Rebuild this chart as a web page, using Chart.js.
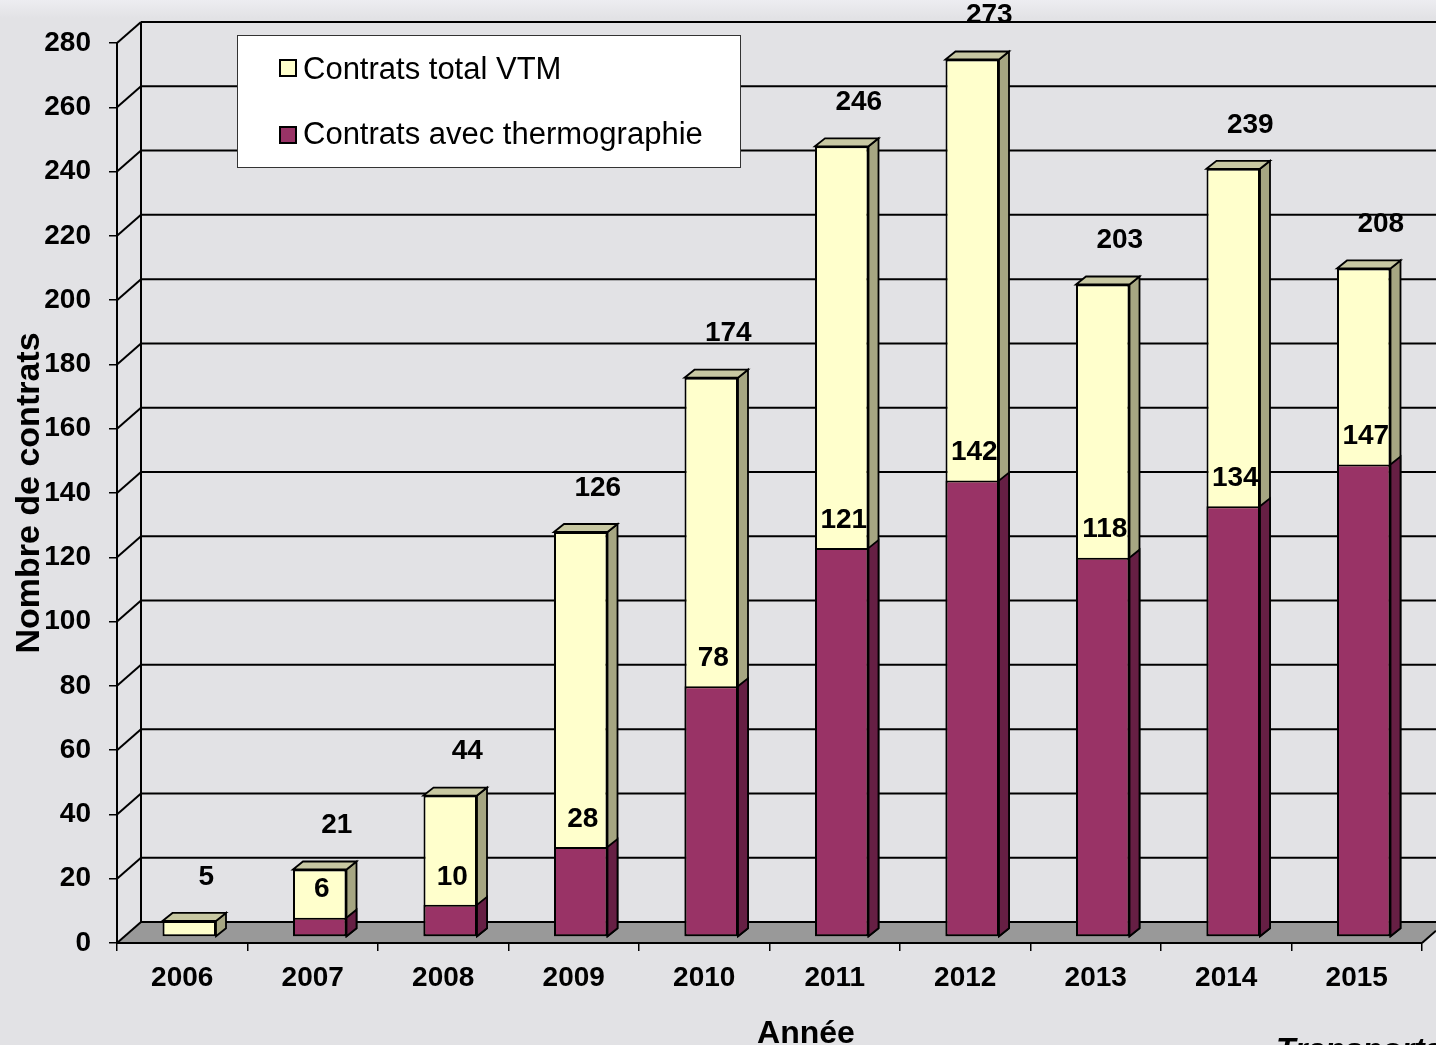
<!DOCTYPE html>
<html>
<head>
<meta charset="utf-8">
<script src="https://cdn.jsdelivr.net/npm/chart.js@4.4.1/dist/chart.umd.min.js"></script>
<style>
html, body { margin: 0; padding: 0; }
body { background: linear-gradient(#ededf1 0px, #e2e2e5 18px); width: 1436px; height: 1045px; overflow: hidden; }
#wrap { position: relative; width: 1436px; height: 1045px; }
</style>
</head>
<body>
<div id="wrap"><canvas id="myChart"></canvas></div>
<script>
const years = ['2006', '2007', '2008', '2009', '2010', '2011', '2012', '2013', '2014', '2015'];
const totalVTM = [5, 21, 44, 126, 174, 246, 273, 203, 239, 208];
const thermo = [0, 6, 10, 28, 78, 121, 142, 118, 134, 147];
const seriesNames = ['Contrats total VTM', 'Contrats avec thermographie'];
const yMax = 280;
const yStep = 20;
const xTitle = 'Année';
const yTitle = 'Nombre de contrats';
const footText = 'Transports';

const FONT = "'Liberation Sans', Arial, sans-serif";
Chart.defaults.font.family = FONT;

// fake 3d offsets (pixels)
const BAR_DX = 7, BAR_DY = -6;       // bar front plane vs front axis
const DEPTH_DX = 10, DEPTH_DY = -8;  // depth of a bar
const WALL_DX = 24, WALL_DY = -21;   // back wall vs front axis

const colors = {
    total: '#FFFFCC', totalSide: '#A6A682', totalTop: '#C8C8A2',
    thermo: '#993366', thermoSide: '#661F44'
};

function poly(ctx, pts, fill) {
    ctx.beginPath();
    ctx.moveTo(pts[0][0], pts[0][1]);
    for (let i = 1; i < pts.length; i++) ctx.lineTo(pts[i][0], pts[i][1]);
    ctx.closePath();
    if (fill) { ctx.fillStyle = fill; ctx.fill(); }
    ctx.strokeStyle = '#000';
    ctx.lineWidth = 1.8;
    ctx.stroke();
}

function line(ctx, x1, y1, x2, y2) {
    ctx.beginPath();
    ctx.moveTo(x1, y1);
    ctx.lineTo(x2, y2);
    ctx.stroke();
}

const box3d = {
    id: 'box3d',
    beforeDatasetsDraw(chart) {
        const ctx = chart.ctx;
        const { left, right } = chart.chartArea;
        const ys = chart.scales.y;
        const W = chart.width;
        const y0 = ys.getPixelForValue(0);
        const yTop = ys.getPixelForValue(yMax);
        const rightY = y0 + WALL_DY * (W - right) / WALL_DX;

        ctx.save();
        // floor
        ctx.beginPath();
        ctx.moveTo(left, y0);
        ctx.lineTo(left + WALL_DX, y0 + WALL_DY);
        ctx.lineTo(W, y0 + WALL_DY);
        ctx.lineTo(W, rightY);
        ctx.lineTo(right, y0);
        ctx.closePath();
        ctx.fillStyle = '#999999';
        ctx.fill();

        ctx.strokeStyle = '#000';
        ctx.lineWidth = 2;
        ys.ticks.forEach(t => {
            const py = ys.getPixelForValue(t.value);
            line(ctx, left + WALL_DX, py + WALL_DY, W, py + WALL_DY);
            line(ctx, left, py, left + WALL_DX, py + WALL_DY);
        });
        line(ctx, left + WALL_DX, yTop + WALL_DY, left + WALL_DX, y0 + WALL_DY);
        line(ctx, left, y0, right, y0);
        line(ctx, right, y0, W, rightY);

        // side and top faces of the bars
        const m0 = chart.getDatasetMeta(0), m1 = chart.getDatasetMeta(1);
        m0.data.forEach((bar, i) => {
            const p = bar.getProps(['x', 'y', 'base', 'width'], true);
            const l = p.x - p.width / 2 + BAR_DX, r = p.x + p.width / 2 + BAR_DX;
            const t = p.y + BAR_DY, b = p.base + BAR_DY;
            poly(ctx, [[r, b], [r + DEPTH_DX, b + DEPTH_DY], [r + DEPTH_DX, t + DEPTH_DY], [r, t]], colors.totalSide);
            poly(ctx, [[l, t], [l + DEPTH_DX, t + DEPTH_DY], [r + DEPTH_DX, t + DEPTH_DY], [r, t]], colors.totalTop);
            if (thermo[i] > 0) {
                const q = m1.data[i].getProps(['y'], true);
                const t2 = q.y + BAR_DY;
                poly(ctx, [[r, b], [r + DEPTH_DX, b + DEPTH_DY], [r + DEPTH_DX, t2 + DEPTH_DY], [r, t2]], colors.thermoSide);
            }
        });
        ctx.restore();

        ctx.save();
        ctx.translate(BAR_DX, BAR_DY);
    },
    afterDatasetsDraw(chart) {
        const ctx = chart.ctx;
        ctx.restore();

        ctx.save();
        ctx.fillStyle = '#000';
        ctx.font = 'bold 28px ' + FONT;
        ctx.textAlign = 'center';
        ctx.textBaseline = 'middle';
        chart.getDatasetMeta(0).data.forEach((bar, i) => {
            ctx.fillText(String(totalVTM[i]), bar.x + 24, bar.y - 50);
        });
        chart.getDatasetMeta(1).data.forEach((bar, i) => {
            if (thermo[i] > 0) ctx.fillText(String(thermo[i]), bar.x + 9, bar.y - 34);
        });
        ctx.restore();
    },
    afterDraw(chart) {
        const ctx = chart.ctx;
        ctx.save();
        // legend
        ctx.fillStyle = '#fff';
        ctx.fillRect(237, 35, 503, 132);
        ctx.strokeStyle = '#333';
        ctx.lineWidth = 1;
        ctx.strokeRect(237.5, 35.5, 503, 132);
        const sw = [colors.total, colors.thermo];
        ctx.font = '31px ' + FONT;
        ctx.textBaseline = 'alphabetic';
        ctx.textAlign = 'left';
        seriesNames.forEach((name, i) => {
            const yy = 60 + i * 67;
            ctx.fillStyle = sw[i];
            ctx.fillRect(280, yy, 16, 16);
            ctx.strokeStyle = '#000';
            ctx.lineWidth = 2;
            ctx.strokeRect(280, yy, 16, 16);
            ctx.fillStyle = '#000';
            ctx.fillText(name, 303, 79 + i * 65);
        });

        // x title
        ctx.font = 'bold 32px ' + FONT;
        ctx.textAlign = 'center';
        ctx.textBaseline = 'alphabetic';
        ctx.fillText(xTitle, 806, 1043);

        // cut-off footer text
        ctx.font = 'italic bold 32px ' + FONT;
        ctx.textAlign = 'left';
        ctx.fillText(footText, 1276, 1060);
        ctx.restore();
    }
};

const ctx = document.getElementById('myChart').getContext('2d');
const myChart = new Chart(ctx, {
    type: 'bar',
    data: {
        labels: years,
        datasets: [{
            label: seriesNames[0],
            data: totalVTM,
            backgroundColor: colors.total,
            borderColor: '#000',
            borderWidth: 2,
            borderSkipped: false,
            grouped: false,
            order: 1,
            barPercentage: 0.41,
            categoryPercentage: 1
        }, {
            label: seriesNames[1],
            data: thermo,
            backgroundColor: colors.thermo,
            borderColor: '#000',
            borderWidth: 2,
            borderSkipped: false,
            grouped: false,
            order: 0,
            barPercentage: 0.41,
            categoryPercentage: 1
        }]
    },
    options: {
        responsive: true,
        maintainAspectRatio: false,
        animation: false,
        layout: { padding: { top: 43, right: 14, left: 0, bottom: 0 } },
        plugins: {
            legend: { display: false },
            tooltip: { enabled: false }
        },
        scales: {
            x: {
                grid: { drawOnChartArea: false, color: '#000', lineWidth: 1.5, tickLength: 8 },
                border: { color: '#000', width: 2 },
                ticks: { color: '#000', font: { size: 28, weight: 'bold' }, padding: 10, maxRotation: 0 },
                afterFit(s) { s.height = 102; }
            },
            y: {
                min: 0,
                max: yMax,
                ticks: { stepSize: yStep, color: '#000', font: { size: 28, weight: 'bold' }, padding: 18 },
                grid: { drawOnChartArea: false, color: '#000', lineWidth: 1.5, tickLength: 8 },
                border: { color: '#000', width: 2 },
                title: {
                    display: true, text: yTitle, color: '#000',
                    font: { size: 34, weight: 'bold', lineHeight: 1 },
                    padding: { top: 13, bottom: 0 }
                },
                afterFit(s) { s.width = 117; }
            }
        }
    },
    plugins: [box3d]
});
</script>
</body>
</html>
